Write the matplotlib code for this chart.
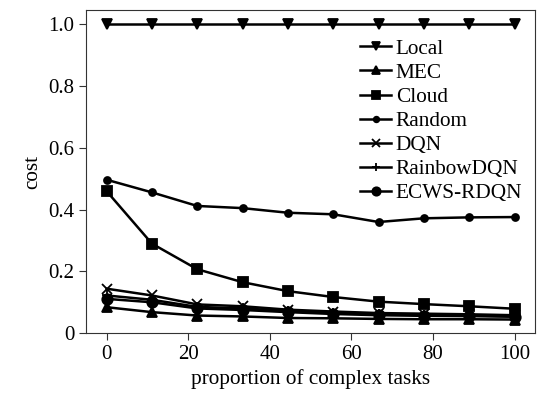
import matplotlib
matplotlib.use("Agg")
import matplotlib.pyplot as plt
import numpy as np

plt.rcParams["font.family"] = ["Liberation Serif", "DejaVu Serif"]

x = np.linspace(0, 100, 10)
local = [1.0, 1.0, 1.0, 1.0, 1.0, 1.0, 1.0, 1.0, 1.0, 1.0]
mec = [0.084, 0.068, 0.057, 0.054, 0.049, 0.048, 0.046, 0.045, 0.045, 0.044]
cloud = [0.460, 0.290, 0.207, 0.165, 0.136, 0.117, 0.102, 0.094, 0.087, 0.079]
random_ = [0.497, 0.456, 0.412, 0.405, 0.390, 0.385, 0.360, 0.372, 0.375, 0.376]
dqn = [0.144, 0.122, 0.093, 0.087, 0.076, 0.070, 0.065, 0.063, 0.061, 0.058]
rainbow = [0.122, 0.108, 0.085, 0.080, 0.072, 0.066, 0.061, 0.059, 0.057, 0.055]
ecws = [0.111, 0.100, 0.080, 0.075, 0.068, 0.062, 0.058, 0.056, 0.055, 0.053]

series = [
    ("Local", local, "v", 6.5),
    ("MEC", mec, "^", 6.5),
    ("Cloud", cloud, "s", 6.5),
    ("Random", random_, "o", 5),
    ("DQN", dqn, "x", 6.5),
    ("RainbowDQN", rainbow, "+", 7.5),
    ("ECWS-RDQN", ecws, "o", 7.5),
]

fig = plt.figure(figsize=(5.42, 3.98), dpi=100)
ax = fig.add_axes([0.159, 0.163, 0.828, 0.812])

for name, vals, mk, ms in series:
    ax.plot(x, vals, color="black", linewidth=1.8, marker=mk, markersize=ms,
            markeredgewidth=1.3, label=name)

ax.set_xlim(-5, 105)
ax.set_ylim(0, 1.047)
ax.set_xticks([0, 20, 40, 60, 80, 100])
ax.set_yticks([0, 0.2, 0.4, 0.6, 0.8, 1.0])
ax.set_yticklabels(["0", "0.2", "0.4", "0.6", "0.8", "1.0"])
ax.tick_params(labelsize=15, direction="out", length=5, color="#333333")
ax.set_xlabel("proportion of complex tasks", fontsize=15.3)
ax.set_ylabel("cost", fontsize=15.3)
for sp in ax.spines.values():
    sp.set_color("#333333")

ax.legend(loc="upper right", bbox_to_anchor=(1.0, 0.95), frameon=False,
          fontsize=15.3, handlelength=1.5, handletextpad=0.2, labelspacing=0.2,
          borderaxespad=0.2, markerscale=0.8)

plt.savefig("out.png", dpi=100)
plt.close()
